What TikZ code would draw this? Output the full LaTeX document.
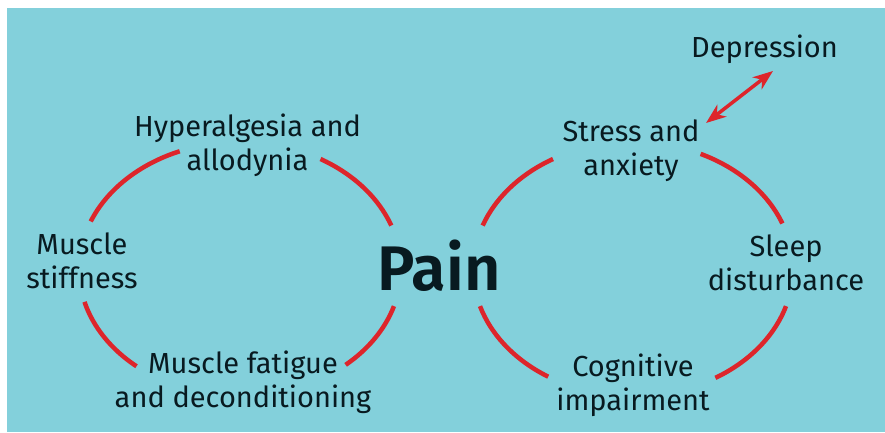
\documentclass[tikz,border=0pt]{standalone}
\usepackage{fontspec}
\setmainfont{Fira Sans}[BoldFont={Fira Sans SemiBold}]
\usetikzlibrary{arrows.meta}
\definecolor{backcol}{RGB}{131, 208, 219}
\definecolor{ringcol}{RGB}{221, 37, 43}
\definecolor{textcol}{RGB}{8, 26, 32}
\begin{document}
\begin{tikzpicture}[x=1pt, y=1pt,
		ring/.style={draw=ringcol, line width=4.5pt},
		lbl/.style={anchor=base, align=center, inner sep=0pt, text=textcol, font=\fontsize{29}{34}\selectfont}]
					\useasboundingbox (0,0) rectangle (885,432);
					\fill[backcol] (7,0) rectangle (885,424);
					\coordinate (lc) at (240,163);
					\coordinate (rc) at (633,163);
					\foreach \s/\e in {20/60, 112/158, 195/230, 311/343}
						\draw[ring] ([shift={(\s:161 and 127)}]lc) arc[start angle=\s, end angle=\e, x radius=161, y radius=127];
					\foreach \s/\e in {21/65, 120/160, 197/238, 301/343}
						\draw[ring] ([shift={(\s:160 and 127)}]rc) arc[start angle=\s, end angle=\e, x radius=160, y radius=127];
					\node[lbl] at (247.5,262) (hyper) {Hyperalgesia and\\allodynia};
					\node[lbl] at (82,144)    (stiff) {Muscle\\stiffness};
					\node[lbl] at (243,25)    (fatigue) {Muscle fatigue\\and deconditioning};
					\node[lbl] at (631,257)   (stress) {Stress and\\anxiety};
					\node[lbl] at (786,142)   (sleep) {Sleep\\disturbance};
					\node[lbl] at (633,22)    (cogn) {Cognitive\\impairment};
					\node[lbl] at (764.5,374) (depr) {Depression};
					\node[anchor=base, inner sep=0pt, text=textcol, font=\fontsize{63}{68}\selectfont\bfseries] at (439,142) (pain) {Pain};
					\coordinate (depr-tip) at (773,361);
					\coordinate (stress-tip) at (706,309);
					\draw[draw=ringcol, line width=3.5pt, {Stealth[length=20pt, width=15pt, inset=6pt]}-{Stealth[length=20pt, width=15pt, inset=6pt]}] (stress-tip) -- (depr-tip);
				\end{tikzpicture}
\end{document}
